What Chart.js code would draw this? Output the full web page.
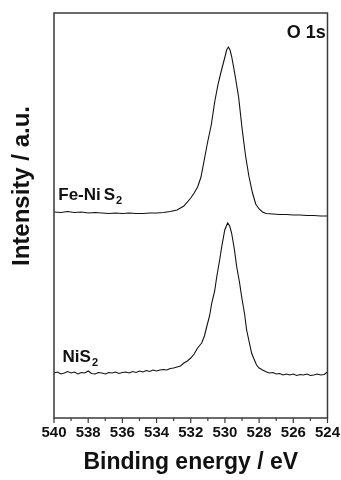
<!DOCTYPE html>
<html><head><meta charset="utf-8">
<script src="https://cdn.jsdelivr.net/npm/chart.js@4/dist/chart.umd.min.js"></script>
<style>html,body{margin:0;padding:0;background:#fff}#w{width:341px;height:480px;position:relative}</style>
</head><body><div id="w"><canvas id="c"></canvas></div>
<script>
// Binding energy (eV) and intensity (a.u.)
const feEnergy = [
  540.0, 539.6, 539.2, 538.8, 538.4, 538.0, 537.6, 537.2, 536.8, 536.4,
  536.0, 535.6, 535.2, 534.8, 534.4, 534.0, 533.6, 533.2, 532.8, 532.4,
  532.0, 531.8, 531.6, 531.4, 531.2, 531.0, 530.8, 530.6, 530.4, 530.2,
  530.0, 529.9, 529.8, 529.7, 529.6, 529.4, 529.2, 529.0, 528.8, 528.6,
  528.4, 528.2, 528.0, 527.8, 527.6, 527.2, 526.8, 526.4, 526.0, 525.6,
  525.2, 524.8, 524.4, 524.0
];
const feIntensity = [
  206, 205.5, 206.5, 205.5, 206, 205, 205.5, 205, 204.5, 205,
  204.5, 205, 204.5, 204.5, 205, 205, 205.5, 206.5, 208, 212,
  220, 225, 231, 241, 259, 277, 293, 316, 334, 348,
  361, 368, 371, 368, 361, 342, 321, 290, 263, 242,
  226, 214, 209, 206, 204.5, 204, 203.5, 203.5, 203, 203,
  202.5, 202.5, 202, 202
];
const niEnergy = [
  540.0, 539.8, 539.6, 539.4, 539.2, 539.0, 538.8, 538.6, 538.4, 538.2,
  538.0, 537.8, 537.6, 537.4, 537.2, 537.0, 536.8, 536.6, 536.4, 536.2,
  536.0, 535.8, 535.6, 535.4, 535.2, 535.0, 534.8, 534.6, 534.4, 534.2,
  534.0, 533.8, 533.6, 533.4, 533.2, 533.0, 532.8, 532.6, 532.4, 532.2,
  532.0, 531.8, 531.6, 531.36, 531.2, 531.07, 530.9, 530.77, 530.6, 530.48,
  530.3, 530.19, 530.01, 529.84, 529.72, 529.61, 529.45, 529.31, 529.15, 529.02,
  528.85, 528.73, 528.58, 528.44, 528.3, 528.15, 528.0, 527.8, 527.56, 527.4,
  527.2, 527.0, 526.8, 526.6, 526.4, 526.2, 526.0, 525.8, 525.6, 525.4,
  525.2, 525.0, 524.8, 524.6, 524.4, 524.2, 524.0
];
const niIntensity = [
  45, 46, 44, 45, 46.5, 45, 46, 44, 45.5, 45,
  47, 44.5, 44, 45.5, 45, 44, 45.5, 45, 46, 44.5,
  45.5, 46, 45, 46.5, 45.5, 47, 46, 47.5, 46.5, 48,
  47, 48, 48.5, 48, 49.5, 50, 51, 52, 55, 57,
  60, 64, 70, 75, 82, 91, 102, 115, 127, 141,
  159, 171, 188, 195, 192, 185, 169, 151, 136, 121,
  104, 88, 76, 65, 59, 53, 50, 48, 46, 45,
  45.5, 44, 44.5, 43, 44, 43, 44, 42.5, 43.5, 43,
  44, 42.5, 43, 44, 43, 43.5, 46
];
const xTicks = [540, 538, 536, 534, 532, 530, 528, 526, 524];
const xMinor = [539, 537, 535, 533, 531, 529, 527, 525];
const seriesNames = ['Fe-NiS2', 'NiS2'];

const FONT = '"Liberation Sans", Arial, sans-serif';
const INK = '#111';

const toXY = (xs, ys) => xs.map((x, i) => ({x: x, y: ys[i]}));

const framePlugin = {
  id: 'frame',
  afterDraw(chart) {
    const {ctx, chartArea: a, scales: {x}} = chart;
    ctx.save();
    ctx.strokeStyle = '#3a3a3a';
    ctx.lineWidth = 1.5;
    ctx.strokeRect(a.left, a.top, a.right - a.left, a.bottom - a.top);
    ctx.lineWidth = 1.2;
    ctx.beginPath();
    xTicks.forEach(v => { const p = x.getPixelForValue(v); ctx.moveTo(p, a.bottom); ctx.lineTo(p, a.bottom + 5); });
    xMinor.forEach(v => { const p = x.getPixelForValue(v); ctx.moveTo(p, a.bottom); ctx.lineTo(p, a.bottom + 3); });
    ctx.stroke();
    ctx.restore();
  }
};

const labelPlugin = {
  id: 'labels',
  afterDatasetsDraw(chart) {
    const {ctx, scales: {x, y}, chartArea: a} = chart;
    ctx.save();
    ctx.fillStyle = INK;
    ctx.textBaseline = 'alphabetic';
    function sub(main, s, px, py, size, gap) {
      ctx.font = 'bold ' + size + 'px ' + FONT;
      ctx.textAlign = 'left';
      let cx = px;
      main.forEach((part, i) => {
        ctx.fillText(part, cx, py);
        cx += ctx.measureText(part).width + (i < main.length - 1 ? gap : 0);
      });
      ctx.font = 'bold ' + Math.round(size * 0.62) + 'px ' + FONT;
      ctx.fillText(s, cx + 1, py + 4);
    }
    sub(['Fe-Ni', 'S'], '2', x.getPixelForValue(539.75), y.getPixelForValue(218), 17, 3);
    sub(['NiS'], '2', x.getPixelForValue(539.5), y.getPixelForValue(56), 17, 0);
    ctx.font = 'bold 18px ' + FONT;
    ctx.textAlign = 'right';
    ctx.fillText('O 1s', x.getPixelForValue(524.1), y.getPixelForValue(380));
    // y axis title
    ctx.translate(22, 186);
    ctx.rotate(-Math.PI / 2);
    ctx.font = 'bold 24px ' + FONT;
    ctx.textAlign = 'center';
    ctx.textBaseline = 'middle';
    ctx.fillText('Intensity / a.u.', 0, 0);
    ctx.restore();
  }
};

new Chart(document.getElementById('c'), {
  type: 'line',
  data: {
    datasets: [
      { label: seriesNames[0], data: toXY(feEnergy, feIntensity) },
      { label: seriesNames[1], data: toXY(niEnergy, niIntensity) }
    ]
  },
  options: {
    responsive: true,
    maintainAspectRatio: false,
    animation: false,
    layout: { padding: { left: 54, right: 13, top: 13, bottom: 0 } },
    elements: {
      line: { borderColor: INK, borderWidth: 1.1, tension: 0, fill: false },
      point: { radius: 0 }
    },
    plugins: { legend: { display: false }, tooltip: { enabled: false } },
    scales: {
      x: {
        type: 'linear',
        reverse: true,
        min: 524, max: 540,
        afterFit(s) { s.height = 62; },
        afterBuildTicks(s) { s.ticks = xTicks.map(v => ({ value: v })); },
        grid: { display: true, drawOnChartArea: false, drawTicks: true, tickLength: 5, color: 'rgba(0,0,0,0)' },
        border: { display: false },
        ticks: { autoSkip: false, maxRotation: 0, padding: 1, color: INK, font: { family: FONT, size: 15, weight: 'bold' } },
        title: { display: true, text: 'Binding energy / eV', color: INK, padding: { top: 0, bottom: 4 }, font: { family: FONT, size: 23, weight: 'bold' } }
      },
      y: {
        display: false,
        min: 0, max: 405
      }
    }
  },
  plugins: [framePlugin, labelPlugin]
});
</script>
</body></html>
